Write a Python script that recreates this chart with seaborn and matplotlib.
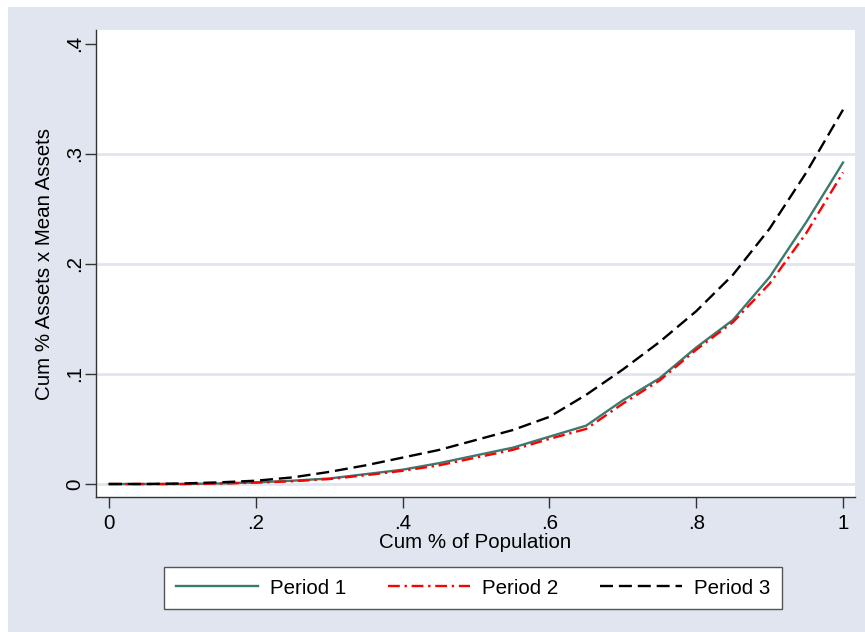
import numpy as np
import pandas as pd
import seaborn as sns
import matplotlib.pyplot as plt
from matplotlib.patches import Rectangle

# Cumulative share of population (x) and generalized Lorenz ordinates
pop_share = [0.0, 0.05, 0.10, 0.15, 0.20, 0.25, 0.30, 0.35, 0.40, 0.45, 0.50,
             0.55, 0.60, 0.65, 0.70, 0.75, 0.80, 0.85, 0.90, 0.95, 1.0]
period1 = [0.0, 0.0, 0.0, 0.0005, 0.0015, 0.003, 0.005, 0.009, 0.013, 0.019, 0.026,
           0.033, 0.043, 0.053, 0.076, 0.096, 0.124, 0.149, 0.188, 0.238, 0.292]
period2 = [0.0, 0.0, 0.0, 0.0004, 0.0012, 0.0025, 0.0045, 0.008, 0.012, 0.017, 0.024,
           0.031, 0.041, 0.050, 0.073, 0.094, 0.122, 0.147, 0.182, 0.228, 0.283]
period3 = [0.0, 0.0, 0.0005, 0.0015, 0.003, 0.006, 0.011, 0.017, 0.024, 0.031, 0.040,
           0.049, 0.061, 0.081, 0.104, 0.129, 0.157, 0.190, 0.232, 0.283, 0.340]
labels = ['Period 1', 'Period 2', 'Period 3']

df = pd.DataFrame({
    'x': pop_share * 3,
    'y': period1 + period2 + period3,
    'period': np.repeat(labels, len(pop_share)),
})

bg = '#e0e5ef'
plt.rcParams['font.family'] = ['Liberation Sans', 'DejaVu Sans']
fs = 14.8

fig = plt.figure(figsize=(8.65, 6.32), dpi=100)
fig.patch.set_facecolor('white')
fig.patches.append(Rectangle((8 / 865, 0), 1, 1 - 7 / 632, transform=fig.transFigure,
                             facecolor=bg, edgecolor='none', zorder=-10))
ax = fig.add_axes([96 / 865, 1 - 497 / 632, (855 - 96) / 865, (497 - 30) / 632])
ax.set_facecolor('white')

sns.lineplot(data=df, x='x', y='y', hue='period', style='period', ax=ax,
             palette={'Period 1': '#3b7a6f', 'Period 2': '#ff0000', 'Period 3': '#000000'},
             dashes={'Period 1': '', 'Period 2': (5, 2, 1, 2), 'Period 3': (5.5, 2.5)},
             linewidth=1.7, estimator=None)

ax.set_xlim(-0.0177, 1.0163)
ax.set_ylim(-0.0118, 0.4124)
xt = [0, 0.2, 0.4, 0.6, 0.8, 1.0]
yt = [0, 0.1, 0.2, 0.3, 0.4]
ax.set_xticks(xt)
ax.set_xticklabels(['0', '.2', '.4', '.6', '.8', '1'], fontsize=fs)
ax.set_yticks(yt)
ax.set_yticklabels(['0', '.1', '.2', '.3', '.4'], fontsize=fs, rotation=90, va='center')
ax.tick_params(direction='out', length=8, width=1, color='#333333')
ax.tick_params(axis='y', pad=0.5)
ax.tick_params(axis='x', pad=4)

ax.yaxis.grid(True, color=bg, linewidth=2)
ax.set_axisbelow(True)
ax.yaxis.get_gridlines()[-1].set_visible(False)

for s in ['top', 'right']:
    ax.spines[s].set_visible(False)
for s in ['left', 'bottom']:
    ax.spines[s].set_color('#333333')
    ax.spines[s].set_linewidth(1)

ax.set_xlabel('Cum % of Population', fontsize=fs, labelpad=0)
ax.set_ylabel('Cum % Assets x Mean Assets', fontsize=fs, labelpad=8)

handles, _ = ax.get_legend_handles_labels()
ax.get_legend().remove()
leg = fig.legend(handles, labels, loc='center', bbox_to_anchor=(473 / 865, 1 - 588 / 632),
                 ncol=3, fontsize=fs, frameon=True, fancybox=False, framealpha=1,
                 handlelength=4.0, handletextpad=0.6, columnspacing=2.0, borderpad=0.55)
leg.get_frame().set_facecolor('white')
leg.get_frame().set_edgecolor('#555555')
leg.get_frame().set_linewidth(1)

fig.savefig('out.png', dpi=100, facecolor=fig.get_facecolor())
